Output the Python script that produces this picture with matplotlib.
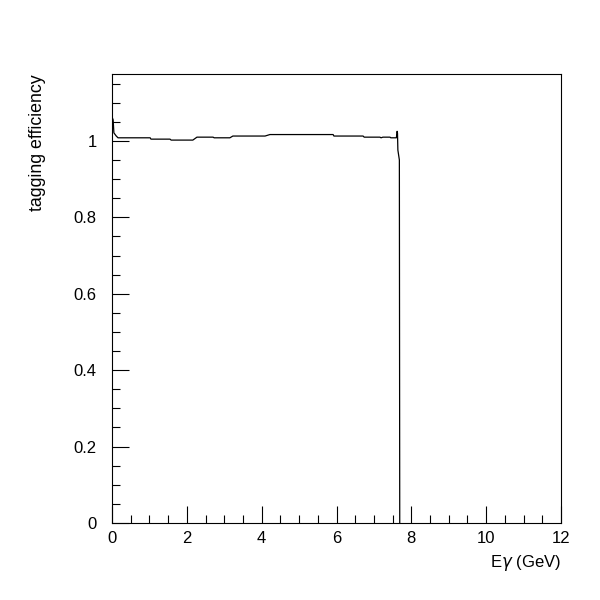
import matplotlib
matplotlib.use('Agg')
import matplotlib.pyplot as plt
from matplotlib.ticker import MultipleLocator

# photon energy (GeV) and tagging efficiency
e_gamma = [0.01, 0.03, 0.05, 0.11, 0.16, 1.02, 1.04, 1.55, 1.58, 2.16, 2.27,
           2.70, 2.73, 3.15, 3.23, 4.09, 4.22, 5.91, 5.93, 6.71, 6.74, 7.16,
           7.19, 7.24, 7.43, 7.45, 7.60, 7.62, 7.63, 7.64, 7.68, 7.69]
efficiency = [1.060, 1.055, 1.021, 1.013, 1.008, 1.008, 1.0045, 1.0045, 1.002, 1.002, 1.0097,
              1.0097, 1.008, 1.008, 1.0126, 1.0126, 1.0165, 1.0165, 1.0126, 1.0126, 1.0097, 1.0097,
              1.008, 1.0097, 1.0097, 1.008, 1.008, 1.025, 1.020, 0.976, 0.95, 0.0]

x_ticks = [0, 2, 4, 6, 8, 10, 12]
y_ticks = [0, 0.2, 0.4, 0.6, 0.8, 1.0]
y_tick_labels = ['0', '0.2', '0.4', '0.6', '0.8', '1']

plt.rcParams['font.family'] = ['Liberation Sans', 'DejaVu Sans']

fig = plt.figure(figsize=(6, 6), dpi=100)
ax = fig.add_axes([0.1867, 0.1283, 0.7483, 0.7484])

ax.plot(e_gamma, efficiency, color='black', linewidth=0.9)

ax.set_xlim(0, 12)
ax.set_ylim(0, 1.175)
ax.set_xticks(x_ticks)
ax.set_yticks(y_ticks)
ax.set_yticklabels(y_tick_labels)
ax.xaxis.set_minor_locator(MultipleLocator(0.5))
ax.yaxis.set_minor_locator(MultipleLocator(0.05))
ax.tick_params(which='both', direction='in', top=False, right=False,
               labelsize=12, width=0.8)
ax.tick_params(axis='x', pad=6)
ax.tick_params(axis='y', pad=11)
ax.tick_params(which='major', length=12)
ax.tick_params(which='minor', length=6)
for s in ax.spines.values():
    s.set_linewidth(0.8)

ax.set_xlabel('E$\\gamma$ (GeV)', fontsize=12, loc='right', labelpad=5)
ax.set_ylabel('tagging efficiency', fontsize=12.8, loc='top', labelpad=20)

fig.savefig('out.png', dpi=100)
